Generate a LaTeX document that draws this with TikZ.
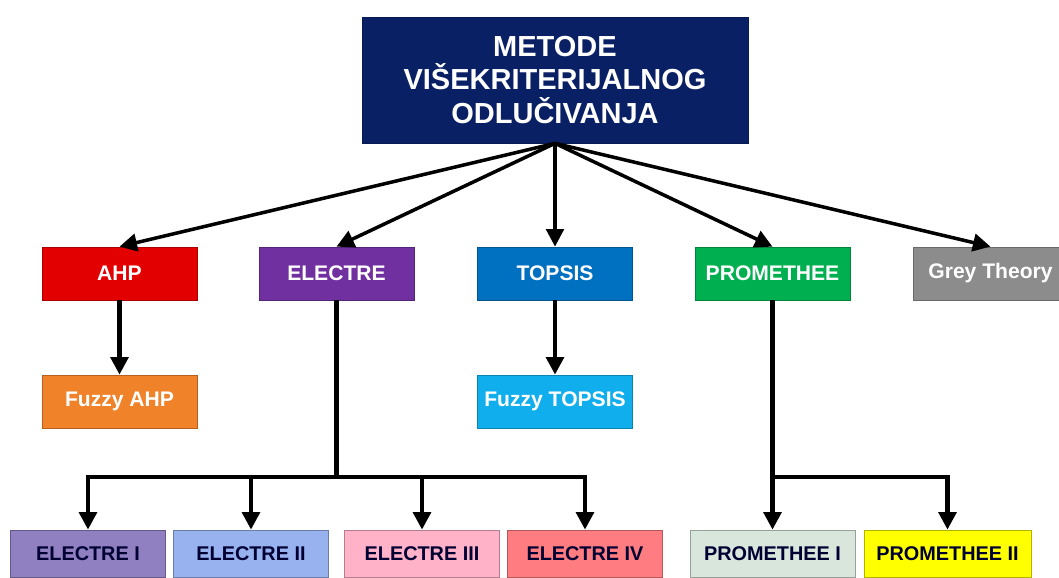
\documentclass[tikz,border=0pt]{standalone}
\usepackage{fontspec}
\setmainfont{Liberation Sans}
\usetikzlibrary{arrows.meta}
\definecolor{navy}{HTML}{0A2064}
\definecolor{ahpred}{HTML}{E20000}
\definecolor{elpurple}{HTML}{7030A0}
\definecolor{topblue}{HTML}{0070C0}
\definecolor{prgreen}{HTML}{00B050}
\definecolor{greygrey}{HTML}{8C8C8C}
\definecolor{fzorange}{HTML}{F0822A}
\definecolor{fzcyan}{HTML}{10AEEC}
\definecolor{eone}{HTML}{9080C2}
\definecolor{etwo}{HTML}{98B2F0}
\definecolor{ethree}{HTML}{FFB2C8}
\definecolor{efour}{HTML}{FF7C80}
\definecolor{pone}{HTML}{D8E6DC}
\definecolor{ptwo}{HTML}{FFFF00}
\tikzset{top box/.style={fill=navy,draw=navy!80!black,text=white,minimum width=7.72cm,minimum height=2.52cm,inner sep=0,align=center,font=\bfseries\fontsize{16.5}{19}\selectfont}}
\tikzset{method box/.style={fill=#1,draw=#1!75!black,text=white,minimum width=3.1cm,minimum height=1.06cm,inner sep=0,font=\bfseries\fontsize{12}{14}\selectfont}}
\tikzset{sub box/.style={fill=#1,draw=#1!70!black,text=black!80!blue,minimum width=3.1cm,minimum height=0.94cm,inner sep=0,font=\bfseries\fontsize{11.3}{13}\selectfont}}
\tikzset{arrow line/.style={line width=2.4pt,-{Triangle[width=10pt,length=10pt]}}}

\begin{document}
\begin{tikzpicture}

            \useasboundingbox (0,0) rectangle (21.18,11.54);

            %vrh
            \node[top box] (metode) at (11.10,9.94) {METODE\\VIŠEKRITERIJALNOG\\ODLUČIVANJA};

            %metode
            \node[method box=ahpred] (ahp) at (2.39,6.07) {AHP};
            \node[method box=elpurple] (electre) at (6.73,6.07) {ELECTRE};
            \node[method box=topblue] (topsis) at (11.10,6.07) {TOPSIS};
            \node[method box=prgreen] (promethee) at (15.45,6.07) {PROMETHEE};
            \node[method box=greygrey] (grey) at (19.81,6.07) {Grey Theory};

            %fuzzy
            \node[method box=fzorange] (fahp) at (2.39,3.51) {Fuzzy AHP};
            \node[method box=fzcyan] (ftopsis) at (11.10,3.51) {Fuzzy TOPSIS};

            %donji red
            \node[sub box=eone] (e1) at (1.76,0.47) {ELECTRE I};
            \node[sub box=etwo] (e2) at (5.02,0.47) {ELECTRE II};
            \node[sub box=ethree] (e3) at (8.44,0.47) {ELECTRE III};
            \node[sub box=efour] (e4) at (11.70,0.47) {ELECTRE IV};
            \node[sub box=pone, minimum width=3.3cm] (p1) at (15.45,0.47) {PROMETHEE I};
            \node[sub box=ptwo, minimum width=3.34cm] (p2) at (18.95,0.47) {PROMETHEE II};

            %strelice
            \foreach \m in {ahp,electre,topsis,promethee,grey}
              \draw[arrow line, line width=2pt] (metode.south) -- (\m.north);
            \draw[arrow line] (ahp.south) -- (fahp.north);
            \draw[arrow line] (topsis.south) -- (ftopsis.north);

            \coordinate (ebus) at (6.73,2.0);
            \coordinate (pbus) at (15.45,2.0);
            \draw[line width=2.4pt] (electre.south) -- (ebus);
            \draw[line width=2.4pt] (promethee.south) -- (pbus);
            \foreach \e in {e1,e2,e3,e4}
              \draw[arrow line] (ebus) -| (\e.north);
            \foreach \p in {p1,p2}
              \draw[arrow line] (pbus) -| (\p.north);

          \end{tikzpicture}
\end{document}
